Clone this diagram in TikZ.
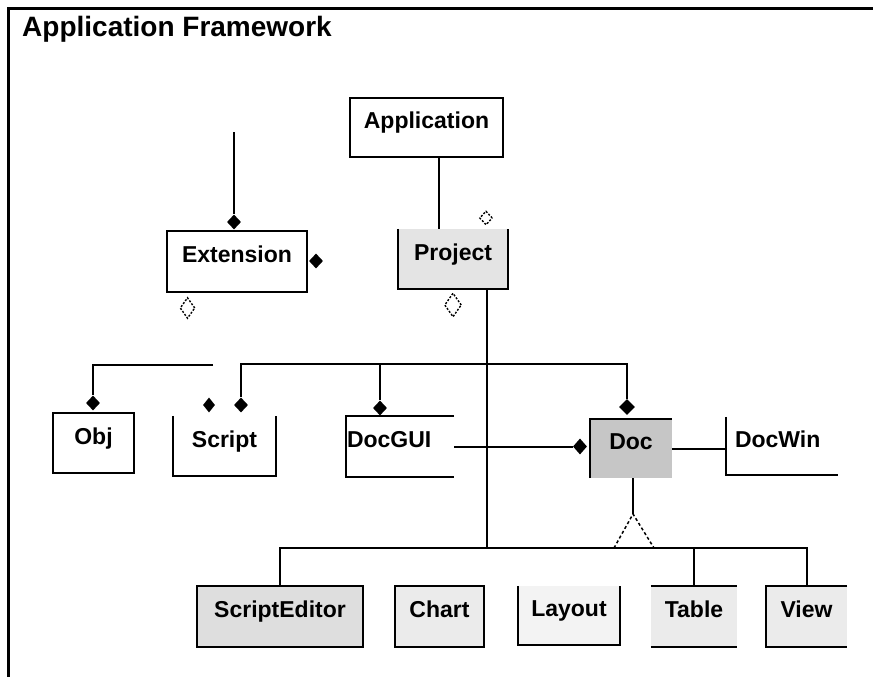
\documentclass[tikz,border=0pt]{standalone}
\usepackage{fontspec}
\setmainfont{Liberation Sans}
\usetikzlibrary{shapes.geometric}
\definecolor{projfill}{HTML}{E4E4E4}
\definecolor{docfill}{HTML}{C6C6C6}
\definecolor{sedfill}{HTML}{DEDEDE}
\definecolor{lightfill}{HTML}{EBEBEB}
\definecolor{layfill}{HTML}{F3F3F3}
\begin{document}
\begin{tikzpicture}[x=1pt,y=-1pt,
  cls/.style={rectangle, inner sep=0pt, text height=16pt, text depth=13.6pt, font=\bfseries\fontsize{23}{26}\selectfont},
  lnw/.style={line width=2pt},
  fd/.style={diamond, fill=black, inner sep=0pt, minimum width=14pt, minimum height=15pt},
  hd/.style={diamond, draw=black, line width=1.4pt, dash pattern=on 2pt off 1.6pt, inner sep=0pt, minimum width=15pt, minimum height=21pt},
]
\useasboundingbox (0,0) rectangle (873,677);
\fill[white] (0,0) rectangle (873,677);
% frame
\draw[line width=2.5pt] (8.7,677) -- (8.7,8.7) -- (873,8.7);
\node[anchor=base west, font=\bfseries\fontsize{28}{32}\selectfont, inner sep=0pt] (title) at (22,37) {Application Framework};

% class boxes
\node[cls, draw, lnw, fill=white, minimum width=153pt, minimum height=59pt] (app) at (426.5,127.5) {Application};
\node[cls, draw, lnw, fill=white, minimum width=140pt, minimum height=61pt] (ext) at (237,261.5) {Extension};
\node[cls, fill=projfill, minimum width=110pt, minimum height=60pt] (proj) at (453,259) {Project};
\draw[lnw] (proj.north west) |- (proj.south east) -- (proj.north east);

\node[cls, draw, lnw, fill=white, minimum width=81pt, minimum height=60pt] (obj) at (93.5,443) {Obj};
\node[cls, minimum width=103pt, minimum height=60pt] (script) at (224.5,446) {Script};
\draw[lnw] (script.north west) |- (script.south east) -- (script.north east);
\node[cls, minimum width=108pt, minimum height=61pt, text width=106pt, align=left, inner xsep=1pt] (gui) at (400,446.5) {DocGUI};
\draw[lnw] (gui.north east) -| (gui.south west) -- (gui.south east);
\node[cls, fill=docfill, minimum width=82pt, minimum height=59pt] (doc) at (631,448.5) {Doc};
\draw[lnw] (doc.south west) |- (doc.north east);
\node[cls, minimum width=112pt, minimum height=58pt, text width=94pt, align=left] (win) at (782,446) {DocWin};
\draw[lnw] (win.north west) |- (win.south east);

\node[cls, draw, lnw, fill=sedfill, minimum width=166pt, minimum height=61pt] (sed) at (280,616.5) {ScriptEditor};
\node[cls, draw, lnw, fill=lightfill, minimum width=89pt, minimum height=61pt] (chart) at (439.5,616.5) {Chart};
\node[cls, fill=layfill, minimum width=102pt, minimum height=59pt] (layout) at (569,615.5) {Layout};
\draw[lnw] (layout.north west) |- (layout.south east) -- (layout.north east);
\node[cls, fill=lightfill, minimum width=86pt, minimum height=61pt] (table) at (694,616.5) {Table};
\draw[lnw] (table.north west) -- (table.north east);
\draw[lnw] (table.south west) -- (table.south east);
\node[cls, fill=lightfill, minimum width=81pt, minimum height=61pt] (view) at (806.5,616.5) {View};
\draw[lnw] (view.north east) -| (view.south west) -- (view.south east);

% adornments
\node[fd] (dExt) at (234,222) {};
\node[fd] (dExtR) at (316,261) {};
\node[hd] (dExtB) at (187.5,308) {};
\node[hd, minimum width=13pt, minimum height=14pt] (dProjS) at (486,218) {};
\node[hd, minimum width=17pt, minimum height=24pt] (dProjB) at (453,305) {};
\node[fd] (dObj) at (93,403) {};
\node[fd, minimum width=12pt] (dScript2) at (209,405) {};
\node[fd] (dScript) at (241,405) {};
\node[fd] (dGUI) at (380,408) {};
\node[fd, minimum width=16pt, minimum height=16pt] (dDoc) at (627,407) {};
\node[fd, minimum height=16pt] (dDocL) at (580,446.5) {};

% connector points
\coordinate (extTop) at (234,132);
\coordinate (busT) at (241,364);
\coordinate (objEnd) at (213,365);
\coordinate (busB) at (487,548);
\coordinate (triTop) at (633,514);
\coordinate (triL) at (614,548);
\coordinate (triR) at (654,548);

% connectors
\draw[lnw] (extTop) -- (dExt.north);
\draw[lnw] ([xshift=12.5pt]app.south) -- ([xshift=-14pt]proj.north);
\draw[lnw] ([xshift=34pt]proj.south) -- (busB);
\draw[lnw] (dScript.north) -- (busT) -| (dDoc.north);
\draw[lnw] (dGUI.north) -- (dGUI.north |- busT);
\draw[lnw] (objEnd) -| (dObj.north);
\draw[lnw] (gui.east) -- (gui.east -| dDocL.west);
\draw[lnw] (doc.east) -- (doc.east -| win.west);
\draw[lnw] ([xshift=2pt]doc.south) -- (triTop);
\draw[line width=1.5pt, dash pattern=on 3pt off 2.5pt] (triL) -- (triTop) -- (triR);
\draw[lnw] (sed.north) |- (busB) -| (view.north);
\draw[lnw] (table.north) -- (table.north |- busB);
\end{tikzpicture}
\end{document}
